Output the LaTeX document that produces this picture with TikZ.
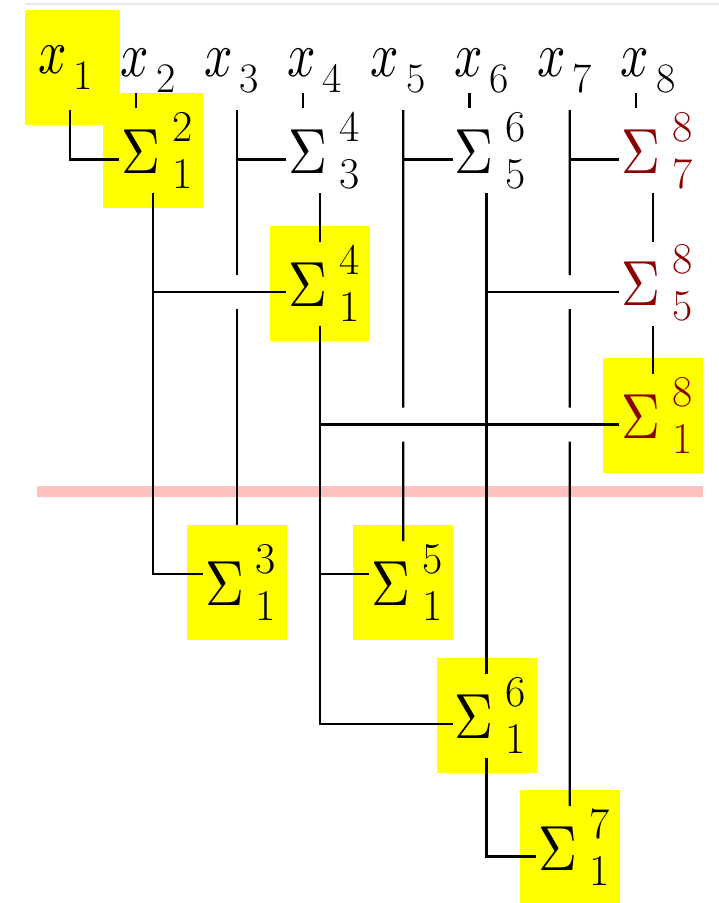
\documentclass[tikz,border=0pt]{standalone}
\usepackage{graphicx}
\usetikzlibrary{calc}

\definecolor{sumred}{RGB}{139,0,0}
\definecolor{hilite}{RGB}{255,255,0}
\definecolor{cutline}{RGB}{255,192,192}
\definecolor{topline}{RGB}{232,232,232}

\newcommand{\scrsz}{\fontsize{44bp}{44bp}\selectfont}
\newcommand{\xlab}[1]{\scalebox{5}[6.4]{$x$}\kern7bp\raisebox{-16bp}{\fontsize{42bp}{42bp}\selectfont #1}}
\newcommand{\sumlab}[2]{\scalebox{5.4}[6.4]{$\Sigma$}\kern12bp\rlap{\raisebox{32bp}{\scrsz #1}}\raisebox{-15bp}{\scrsz #2}\kern-8bp}

\begin{document}
\begin{tikzpicture}[x=1bp,y=-1bp,line width=2.2bp,
  sumbox/.style={minimum width=100bp,minimum height=115bp,inner sep=0pt},
  lit/.style={fill=hilite},
  xname/.style={inner sep=0pt}]

\fill[white] (0,0) rectangle (719,903);
\useasboundingbox (0,0) rectangle (719,903);

\draw[topline,line width=2bp] (25,4) -- (719,4);
\draw[cutline,line width=11bp] (37,491) -- (703,491);

\node[xname,lit,minimum width=95bp,minimum height=115bp] (x1) at (72.5,67.5) {\xlab{1}\kern14bp};
\foreach \i in {2,...,8}
  \node[xname] (x\i) at ({70+83.3*(\i-1)-5},71) {\xlab{\i}};
\foreach \i in {1,3,5,7}
  \coordinate (c\i) at ({70+83.3*(\i-1)},110);

\node[sumbox,lit] (s21) at (153.3,150.5) {\sumlab{2}{1}};
\node[sumbox] (s43) at (320,150.5) {\sumlab{4}{3}};
\node[sumbox] (s65) at (486.5,150.5) {\sumlab{6}{5}};
\node[sumbox,text=sumred] (s87) at (653.1,150.5) {\sumlab{8}{7}};
\node[sumbox,lit] (s41) at (320,283) {\sumlab{4}{1}};
\node[sumbox,text=sumred] (s85) at (653.1,283) {\sumlab{8}{5}};
\node[sumbox,lit,text=sumred] (s81) at (653.1,415.5) {\sumlab{8}{1}};
\node[sumbox,lit] (s31) at (236.6,582.5) {\sumlab{3}{1}};
\node[sumbox,lit] (s51) at (403.2,582.5) {\sumlab{5}{1}};
\node[sumbox,lit] (s61) at (486.5,715) {\sumlab{6}{1}};
\node[sumbox,lit] (s71) at (569.8,847.5) {\sumlab{7}{1}};

\foreach \s in {s21,s43,s65,s87,s41,s85,s81,s31,s51,s61,s71} {
  \coordinate (\s-w) at ($(\s)+(-34,9)$);
  \coordinate (\s-n) at ($(\s)+(0,-41.5)$);
  \coordinate (\s-s) at ($(\s)+(0,42.5)$);
  \coordinate (\s-k) at ($(\s)+(-17,-42.5)$);
}
\coordinate (s31-w) at ($(s31)+(-34,-8.5)$);
\coordinate (s51-w) at ($(s51)+(-34,-8.5)$);
\coordinate (s31-n) at ($(s31)+(0,-58)$);

\draw (c1) |- (s21-w);
\foreach \s in {s21,s43,s65,s87}
  \draw (\s-k) -- ++(0,-15);
\draw (c3) -- ($(c3 |- s41-w)+(0,-17)$) ($(c3 |- s41-w)+(0,17)$) -- (s31-n);
\draw (c3 |- s43-w) -- (s43-w);
\draw (c5) -- ($(c5 |- s81-w)+(0,-17)$) ($(c5 |- s81-w)+(0,17)$) -- (s51-n);
\draw (c5 |- s65-w) -- (s65-w);
\draw (c7) -- ($(c7 |- s85-w)+(0,-17)$) ($(c7 |- s85-w)+(0,17)$) -- ($(c7 |- s81-w)+(0,-17)$)
  ($(c7 |- s81-w)+(0,17)$) -- (s71-n);
\draw (c7 |- s87-w) -- (s87-w);

\draw (s21-s) |- (s31-w);
\draw (s21-s |- s41-w) -- (s41-w);
\draw (s43-s) -- (s41-n);
\draw (s65-s) -- (s61-n);
\draw (s65-s |- s85-w) -- (s85-w);
\draw (s87-s) -- (s85-n);
\draw (s85-s) -- (s81-n);
\draw (s41-s) |- (s61-w);
\draw (s41-s |- s81-w) -- (s81-w);
\draw (s41-s |- s51-w) -- (s51-w);
\draw (s61-s) |- (s71-w);

\end{tikzpicture}
\end{document}
